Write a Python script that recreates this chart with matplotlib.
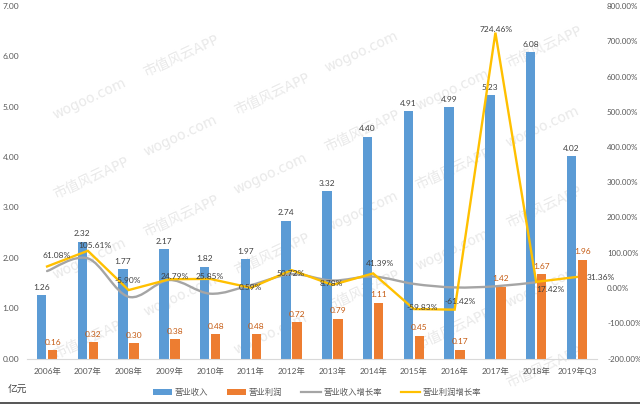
import matplotlib
matplotlib.use("Agg")
import matplotlib.pyplot as plt
from matplotlib.path import Path
from matplotlib.patches import PathPatch, Rectangle, Patch
from matplotlib.lines import Line2D
import numpy as np

plt.rcParams['font.family'] = ['Lato', 'Noto Sans CJK SC', 'DejaVu Sans']

years = ['2006年', '2007年', '2008年', '2009年', '2010年', '2011年', '2012年',
         '2013年', '2014年', '2015年', '2016年', '2017年', '2018年', '2019年Q3']
revenue = [1.26, 2.32, 1.77, 2.17, 1.82, 1.97, 2.74, 3.32, 4.40, 4.91, 4.99, 5.23, 6.08, 4.02]
profit = [0.16, 0.32, 0.30, 0.38, 0.48, 0.48, 0.72, 0.79, 1.11, 0.45, 0.17, 1.42, 1.67, 1.96]
rev_growth = [48.0, 84.1, -25.0, 22.6, -16.1, 8.2, 39.1, 21.2, 32.5, 11.6, 1.6, 4.8, 16.3]
profit_growth = [61.08, 105.61, -5.90, 24.79, 25.85, 0.59, 50.72, 8.78, 41.39,
                 -59.83, -61.42, 724.46, 17.42, 31.36]
left_ticks = [0, 1, 2, 3, 4, 5, 6, 7]
right_ticks = [-200, -100, 0, 100, 200, 300, 400, 500, 600, 700, 800]
legend_labels = ['营业收入', '营业利润', '营业收入增长率', '营业利润增长率']
unit_label = '亿元'

BLUE = '#5B9BD5'
ORANGE = '#ED7D31'
GRAY = '#A5A5A5'
YELLOW = '#FFC000'
TXT = '#404040'
TICK = '#595959'

W, H = 640, 404
fig = plt.figure(figsize=(W / 100, H / 100), dpi=100)
fig.patch.set_facecolor('white')

# faint watermark, kept inside the canvas
wm = ['wogoo.com', '市值风云APP']
ang = np.deg2rad(25)
for row in range(-6, 10):
    for col in range(-2, 10):
        x0 = col * 100 * np.cos(ang) - 40
        y0 = row * 80 + col * 100 * np.sin(ang)
        if 5 < x0 < W - 105 and 10 < y0 < H - 55:
            fig.text(x0 / W, y0 / H, wm[(row + col) % 2],
                     family=['DejaVu Sans', 'Noto Sans CJK SC'],
                     rotation=25, fontsize=10, color='#e9e9e9', ha='left', va='bottom',
                     zorder=-5)

ax = fig.add_axes([26.7 / W, 45.5 / H, 570.6 / W, 352.5 / H])
ax.patch.set_alpha(0)
x = np.arange(len(years))
bw = 0.234
off = 0.136
ax.bar(x - off, revenue, bw, color=BLUE, zorder=2)
ax.bar(x + off, profit, bw, color=ORANGE, zorder=2)
ax.set_xlim(-0.5, len(years) - 0.5)
ax.set_ylim(0, 7)
ax.set_yticks(left_ticks)
ax.set_yticklabels(['%.2f' % v for v in left_ticks])
ax.set_xticks(x)
ax.set_xticklabels(years)
for s in ['top', 'right', 'left']:
    ax.spines[s].set_visible(False)
ax.spines['bottom'].set_color('#d9d9d9')
ax.tick_params(axis='both', length=0, labelsize=6, colors=TICK)
ax.tick_params(axis='y', pad=10)
ax.tick_params(axis='x', pad=6)
for t in ax.get_yticklabels():
    t.set_ha('left')
    t.set_x(-24.0 / 570.6)
    t.set_transform(ax.get_yaxis_transform())

for xi, v in zip(x, revenue):
    ax.annotate('%.2f' % v, (xi - off, v), xytext=(0, 8), textcoords='offset pixels',
                ha='center', va='center', fontsize=6, color=TXT, zorder=5)
for xi, v in zip(x, profit):
    ax.annotate('%.2f' % v, (xi + off, v), xytext=(0, 8), textcoords='offset pixels',
                ha='center', va='center', fontsize=6, color='#C55A11', zorder=5)

ax2 = ax.twinx()
ax2.set_ylim(-200, 800)
ax2.set_yticks(right_ticks)
ax2.set_yticklabels(['%.2f%%' % v for v in right_ticks])
for s in ax2.spines.values():
    s.set_visible(False)
ax2.tick_params(axis='y', length=0, labelsize=5.8, colors=TICK, pad=7)

# smoothed revenue growth line (Bezier through the points)
P = np.column_stack([np.arange(len(rev_growth)), rev_growth]).astype(float)
verts = [P[0]]
codes = [Path.MOVETO]
n = len(P)
for i in range(n - 1):
    p0 = P[i - 1] if i > 0 else P[i]
    p1 = P[i]
    p2 = P[i + 1]
    p3 = P[i + 2] if i + 2 < n else P[i + 1]
    c1 = p1 + (p2 - p0) / 6.0
    c2 = p2 - (p3 - p1) / 6.0
    verts += [c1, c2, p2]
    codes += [Path.CURVE4] * 3
ax2.add_patch(PathPatch(Path(verts, codes), facecolor='none', edgecolor=GRAY,
                        lw=1.7, zorder=3, capstyle='round'))

ax2.plot(x, profit_growth, color=YELLOW, lw=1.7, zorder=4, solid_joinstyle='miter')

pg_offsets = [(10, 11), (7, 5), (-1, 10), (5, 3), (0, 2), (0, 0), (-1, -3), (-1, 1),
              (7, 10), (8, 2), (6, 8), (1, 3), (14, -8), (24, -1)]
for xi, v, (dx, dy) in zip(x, profit_growth, pg_offsets):
    ax2.annotate('%.2f%%' % v, (xi, v), xytext=(dx, dy), textcoords='offset pixels',
                 ha='center', va='center', fontsize=6, color=TXT, zorder=6)

handles = [Patch(facecolor=BLUE), Patch(facecolor=ORANGE),
           Line2D([], [], color=GRAY, lw=1.6), Line2D([], [], color=YELLOW, lw=1.6)]
fig.legend(handles, legend_labels, loc='center', bbox_to_anchor=(317 / W, 12 / H),
           ncol=4, frameon=False, fontsize=6, handlelength=2.3, handleheight=0.8,
           handletextpad=0.3, columnspacing=2.3, labelcolor=TICK)

fig.text(8 / W, 1 - 390 / H, unit_label, fontsize=7, color=TXT, ha='left', va='center')

fig.add_artist(Rectangle((0, 0), 1, 2.5 / H, transform=fig.transFigure,
                         facecolor='#595959', edgecolor='none'))

fig.savefig('out.png', dpi=100)
